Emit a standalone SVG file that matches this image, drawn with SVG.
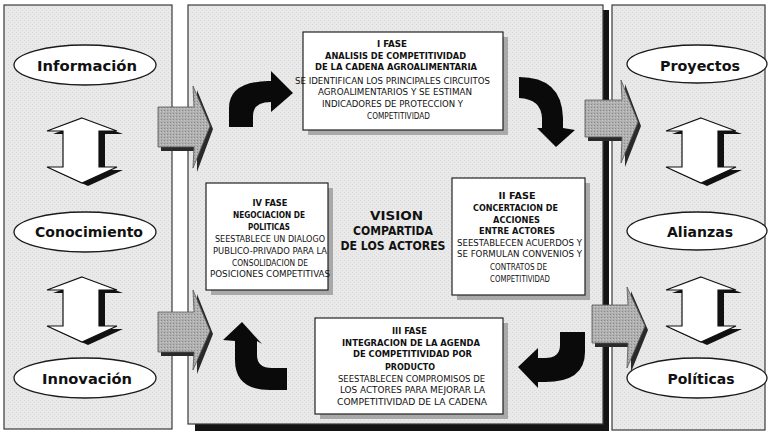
<svg xmlns="http://www.w3.org/2000/svg" width="769" height="433" viewBox="0 0 769 433">
<defs>
<pattern id="grain" width="4" height="4" patternUnits="userSpaceOnUse">
<rect width="4" height="4" fill="#e9e9e9"/>
<rect x="0" y="0" width="1" height="1" fill="#d6d6d6"/>
<rect x="2" y="2" width="1" height="1" fill="#dadada"/>
</pattern>
<pattern id="gdot" width="3" height="3" patternUnits="userSpaceOnUse">
<rect width="3" height="3" fill="#b0b0b0"/>
<rect x="0" y="0" width="1" height="1" fill="#8a8a8a"/>
<rect x="2" y="1" width="1" height="1" fill="#c8c8c8"/>
</pattern>
</defs>
<style>
.panel{fill:url(#grain);stroke:#3a3a3a;stroke-width:1.2}
.box{fill:#ffffff;stroke:#222;stroke-width:1.2}
.bsh{fill:#a9a9a9}
.oval{fill:#ffffff;stroke:#1a1a1a;stroke-width:1.3}
.olab{font-family:"DejaVu Sans",sans-serif;font-weight:bold;font-size:14px;fill:#111;text-anchor:middle}
.ph{font-family:"DejaVu Sans Condensed","DejaVu Sans",sans-serif;font-size:9.5px;fill:#111;text-anchor:middle}
.phb{font-weight:bold}
.vis{font-family:"DejaVu Sans",sans-serif;font-weight:bold;font-size:13px;fill:#111;text-anchor:middle}
.curve{fill:#0a0a0a}
.dbl{fill:#ffffff;stroke:#111;stroke-width:1.2}
.dsh{fill:#111}
.garr{fill:url(#gdot);stroke:#555;stroke-width:0.8}
.gsh{fill:#2a2a2a}
</style>

<!-- panels -->
<g id="panel-left"><rect class="panel" x="4" y="5" width="168" height="424"/></g>
<g id="panel-middle">
<rect x="195" y="10" width="414" height="421" fill="#141414"/>
<rect class="panel" x="188" y="5" width="415" height="419"/>
</g>
<g id="panel-right"><rect class="panel" x="612" y="5" width="153" height="425"/></g>

<!-- phase boxes -->
<g id="fase1">
<rect class="bsh" x="308" y="37" width="200" height="98"/>
<rect class="box" x="303" y="32" width="200" height="98"/>
<text class="ph phb" x="392" y="47" textLength="30" lengthAdjust="spacingAndGlyphs">I FASE</text>
<text class="ph phb" x="395.5" y="58.5" textLength="141" lengthAdjust="spacingAndGlyphs">ANALISIS DE COMPETITIVIDAD</text>
<text class="ph phb" x="396" y="70" textLength="162" lengthAdjust="spacingAndGlyphs">DE LA CADENA AGROALIMENTARIA</text>
<text class="ph" x="392.5" y="83.5" textLength="195" lengthAdjust="spacingAndGlyphs">SE IDENTIFICAN LOS PRINCIPALES CIRCUITOS</text>
<text class="ph" x="395" y="95" textLength="154" lengthAdjust="spacingAndGlyphs">AGROALIMENTARIOS Y SE ESTIMAN</text>
<text class="ph" x="392.5" y="107" textLength="141" lengthAdjust="spacingAndGlyphs">INDICADORES DE PROTECCION Y</text>
<text class="ph" x="398.5" y="118.5" textLength="63" lengthAdjust="spacingAndGlyphs">COMPETITIVIDAD</text>
</g>

<g id="fase4">
<rect class="bsh" x="211" y="188" width="122" height="107"/>
<rect class="box" x="206" y="183" width="122" height="107"/>
<text class="ph phb" x="270" y="205.5" textLength="35" lengthAdjust="spacingAndGlyphs">IV FASE</text>
<text class="ph phb" x="269" y="217.5" textLength="72" lengthAdjust="spacingAndGlyphs">NEGOCIACION DE</text>
<text class="ph phb" x="269" y="229.5" textLength="42" lengthAdjust="spacingAndGlyphs">POLITICAS</text>
<text class="ph" x="270" y="242" textLength="110" lengthAdjust="spacingAndGlyphs">SEESTABLECE UN DIALOGO</text>
<text class="ph" x="270" y="254" textLength="114" lengthAdjust="spacingAndGlyphs">PUBLICO-PRIVADO PARA LA</text>
<text class="ph" x="270" y="265.5" textLength="76" lengthAdjust="spacingAndGlyphs">CONSOLIDACION DE</text>
<text class="ph" x="270" y="277" textLength="120" lengthAdjust="spacingAndGlyphs">POSICIONES COMPETITIVAS</text>
</g>

<g id="fase2">
<rect class="bsh" x="457" y="183" width="133" height="117"/>
<rect class="box" x="452" y="178" width="133" height="117"/>
<text class="ph phb" x="517" y="198.5" textLength="37" lengthAdjust="spacingAndGlyphs">II FASE</text>
<text class="ph phb" x="515.5" y="210.5" textLength="85" lengthAdjust="spacingAndGlyphs">CONCERTACION DE</text>
<text class="ph phb" x="516.5" y="222.5" textLength="47" lengthAdjust="spacingAndGlyphs">ACCIONES</text>
<text class="ph phb" x="517" y="234" textLength="76" lengthAdjust="spacingAndGlyphs">ENTRE ACTORES</text>
<text class="ph" x="519.5" y="245.5" textLength="125" lengthAdjust="spacingAndGlyphs">SEESTABLECEN ACUERDOS Y</text>
<text class="ph" x="519.5" y="257" textLength="125" lengthAdjust="spacingAndGlyphs">SE FORMULAN CONVENIOS Y</text>
<text class="ph" x="518.5" y="270" textLength="57" lengthAdjust="spacingAndGlyphs">CONTRATOS DE</text>
<text class="ph" x="520" y="281.5" textLength="60" lengthAdjust="spacingAndGlyphs">COMPETITIVIDAD</text>
</g>

<g id="fase3">
<rect class="bsh" x="320" y="323" width="188" height="96"/>
<rect class="box" x="315" y="318" width="188" height="96"/>
<text class="ph phb" x="409.5" y="333.5" textLength="35" lengthAdjust="spacingAndGlyphs">III FASE</text>
<text class="ph phb" x="411" y="345.5" textLength="138" lengthAdjust="spacingAndGlyphs">INTEGRACION DE LA AGENDA</text>
<text class="ph phb" x="412.5" y="357" textLength="119" lengthAdjust="spacingAndGlyphs">DE COMPETITIVIDAD POR</text>
<text class="ph phb" x="410" y="369.5" textLength="50" lengthAdjust="spacingAndGlyphs">PRODUCTO</text>
<text class="ph" x="411.5" y="381.5" textLength="147" lengthAdjust="spacingAndGlyphs">SEESTABLECEN COMPROMISOS DE</text>
<text class="ph" x="412.5" y="393" textLength="145" lengthAdjust="spacingAndGlyphs">LOS ACTORES PARA MEJORAR LA</text>
<text class="ph" x="412" y="405" textLength="150" lengthAdjust="spacingAndGlyphs">COMPETITIVIDAD DE LA CADENA</text>
</g>

<g id="vision">
<text class="vis" x="396.5" y="220" textLength="53" lengthAdjust="spacingAndGlyphs">VISION</text>
<text class="vis" x="393" y="235" textLength="80" lengthAdjust="spacingAndGlyphs">COMPARTIDA</text>
<text class="vis" x="393" y="250" textLength="105" lengthAdjust="spacingAndGlyphs">DE LOS ACTORES</text>
</g>

<!-- ovals -->
<g id="informacion"><ellipse class="oval" cx="85" cy="65" rx="71" ry="20"/><text class="olab" x="87" y="71" textLength="100" lengthAdjust="spacingAndGlyphs">Información</text></g>
<g id="conocimiento"><ellipse class="oval" cx="85" cy="232" rx="71" ry="20"/><text class="olab" x="89" y="237" textLength="108" lengthAdjust="spacingAndGlyphs">Conocimiento</text></g>
<g id="innovacion"><ellipse class="oval" cx="85" cy="378" rx="71" ry="20"/><text class="olab" x="87" y="384" textLength="90" lengthAdjust="spacingAndGlyphs">Innovación</text></g>
<g id="proyectos"><ellipse class="oval" cx="697" cy="64" rx="70" ry="19"/><text class="olab" x="700" y="71" textLength="80" lengthAdjust="spacingAndGlyphs">Proyectos</text></g>
<g id="alianzas"><ellipse class="oval" cx="697" cy="231" rx="70" ry="19"/><text class="olab" x="700" y="237" textLength="66" lengthAdjust="spacingAndGlyphs">Alianzas</text></g>
<g id="politicas"><ellipse class="oval" cx="697" cy="378" rx="70" ry="20"/><text class="olab" x="701" y="384" textLength="67" lengthAdjust="spacingAndGlyphs">Políticas</text></g>

<!-- connectors -->
<g id="connectors">
<g>
<polygon class="dsh" points="88,121 123,134 105,134 105,170 123,170 88,186 53,170 69,170 69,134 53,134"/>
<polygon class="dbl" points="82,118 117,131 99,131 99,167 117,167 82,183 47,167 63,167 63,131 47,131"/>
</g>
<g transform="translate(0,159)">
<polygon class="dsh" points="88,121 123,134 105,134 105,170 123,170 88,186 53,170 69,170 69,134 53,134"/>
<polygon class="dbl" points="82,118 117,131 99,131 99,167 117,167 82,183 47,167 63,167 63,131 47,131"/>
</g>
<g transform="translate(619,0)">
<polygon class="dsh" points="88,121 123,134 105,134 105,170 123,170 88,186 53,170 69,170 69,134 53,134"/>
<polygon class="dbl" points="82,118 117,131 99,131 99,167 117,167 82,183 47,167 63,167 63,131 47,131"/>
</g>
<g transform="translate(619,159)">
<polygon class="dsh" points="88,121 123,134 105,134 105,170 123,170 88,186 53,170 69,170 69,134 53,134"/>
<polygon class="dbl" points="82,118 117,131 99,131 99,167 117,167 82,183 47,167 63,167 63,131 47,131"/>
</g>

<g transform="translate(158,86)">
<polygon class="gsh" points="3,25 39,25 39,4 55,43 39,86 39,65 3,65"/>
<polygon class="garr" points="0,21 36,21 35,0 52,40 35,82 36,61 0,61"/>
</g>
<g transform="translate(158,290)">
<polygon class="gsh" points="3,26 39,26 39,4 55,44 39,84 39,66 3,66"/>
<polygon class="garr" points="0,22 36,22 35,0 52,41 35,80 36,62 0,62"/>
</g>
<g transform="translate(585,80)">
<polygon class="gsh" points="3,24 40,24 40,4 56,46 40,87 40,61 3,61"/>
<polygon class="garr" points="0,20 37,20 36,0 53,42 36,83 37,57 0,57"/>
</g>
<g transform="translate(592,287)">
<polygon class="gsh" points="3,22 39,22 39,4 56,43 39,85 39,60 3,60"/>
<polygon class="garr" points="0,18 36,18 35,0 53,39 35,81 36,56 0,56"/>
</g>

<path class="curve" d="M229,127 L229,108 Q229,82 268,81 L271,81 L271,71 L293,93 L271,112 L271,102 Q253,102 253,116 L253,127 Z"/>
<path class="curve" d="M519,77 Q562,77 563,118 L563,128 L575,130 L556,147 L537,128 L542,128 L542,118 Q541,99 519,98 Z"/>
<path class="curve" d="M585,332 L585,352 Q585,382 545,382 L538,382 L538,388 L518,367 L538,348 L538,358 L545,358 Q560,358 560,345 L560,332 Z"/>
<path class="curve" d="M235,341 L235,360 Q235,390 270,390 L287,390 L287,368 L272,368 Q257,368 257,355 L257,341 L262,344 L242,322 L223,340 Z"/>
</g>
</svg>
